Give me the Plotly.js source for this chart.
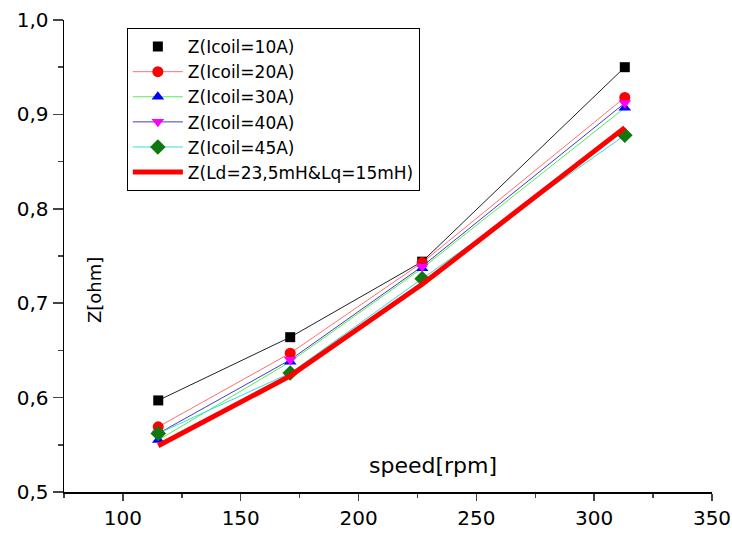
<!DOCTYPE html>
<html><head><meta charset="utf-8">
<script src="https://cdn.plot.ly/plotly-3.0.1.min.js"></script>
<style>html,body{margin:0;padding:0;background:#fff}#chart{width:732px;height:534px}</style>
</head><body><div id="chart"></div>
<script>
const speed = [115, 171, 227, 313];
const z10 = [0.597, 0.664, 0.744, 0.950];
const z20 = [0.569, 0.647, 0.743, 0.918];
const z30 = [0.555, 0.638, 0.737, 0.907];
const z40 = [0.562, 0.640, 0.739, 0.912];
const z45 = [0.562, 0.626, 0.726, 0.878];
const zTheory = [0.549, 0.623, 0.720, 0.886];
const names = ["Z(Icoil=10A)", "Z(Icoil=20A)", "Z(Icoil=30A)", "Z(Icoil=40A)", "Z(Icoil=45A)", "Z(Ld=23,5mH&Lq=15mH)"];

const traces = [
  {x: speed, y: z10, name: names[0], mode: "lines", showlegend: false, line: {color: "#222", width: 1}, hoverinfo: "skip"},
  {x: speed, y: z10, name: names[0], mode: "markers", marker: {symbol: "square", size: 10, color: "#000"}},
  {x: speed, y: z20, name: names[1], mode: "lines+markers", line: {color: "#ff6f6f", width: 1}, marker: {symbol: "circle", size: 11, color: "#ff0000"}},
  {x: speed, y: z30, name: names[2], mode: "lines+markers", line: {color: "#55ee55", width: 1}, marker: {symbol: "triangle-up", size: 11, color: "#0000ff"}},
  {x: speed, y: z40, name: names[3], mode: "lines+markers", line: {color: "#4040c0", width: 1}, marker: {symbol: "triangle-down", size: 11, color: "#ff00ff"}},
  {x: speed, y: z45, name: names[4], mode: "lines+markers", line: {color: "#33dddd", width: 1}, marker: {symbol: "diamond", size: 12, color: "#117711"}},
  {x: speed, y: zTheory, name: names[5], mode: "lines", line: {color: "#ff0000", width: 5}}
];

const layout = {
  width: 732, height: 534,
  margin: {l: 64, r: 20, t: 20, b: 42},
  paper_bgcolor: "#fff", plot_bgcolor: "#fff",
  separators: ",.",
  font: {family: "DejaVu Sans, Liberation Sans, Arial, sans-serif", size: 18, color: "#000"},
  showlegend: true,
  legend: {x: 0.097, y: 0.983, xanchor: "left", yanchor: "top", bordercolor: "#000", borderwidth: 1,
           bgcolor: "#fff", font: {size: 17}, itemwidth: 50},
  xaxis: {range: [75, 350], tickvals: [100, 150, 200, 250, 300, 350], ticks: "outside", ticklen: 7, tickwidth: 1.5,
          showline: true, linecolor: "#000", linewidth: 1.5, showgrid: false, zeroline: false, mirror: false,
          minor: {dtick: 25, tick0: 75, ticks: "outside", ticklen: 4, tickwidth: 1.5, showgrid: false},
          tickfont: {size: 20}},
  yaxis: {range: [0.5, 1.0], dtick: 0.1, tickformat: ".1f", ticks: "outside", ticklen: 10, tickwidth: 1.5,
          showline: true, linecolor: "#000", linewidth: 1.5, showgrid: false, zeroline: false, mirror: false,
          minor: {dtick: 0.05, ticks: "outside", ticklen: 5, tickwidth: 1.5, showgrid: false},
          tickfont: {size: 20}},
  annotations: [
    {text: "Z[ohm]", xref: "paper", yref: "paper", x: 0.048, y: 0.428, xanchor: "center", yanchor: "middle", showarrow: false, textangle: -90, font: {size: 18}},
    {text: "speed[rpm]", xref: "paper", yref: "paper", x: 0.57, y: 0.057, xanchor: "center", yanchor: "middle", showarrow: false, font: {size: 22}}
  ]
};
Plotly.newPlot("chart", traces, layout, {displayModeBar: false, staticPlot: true});
</script></body></html>
